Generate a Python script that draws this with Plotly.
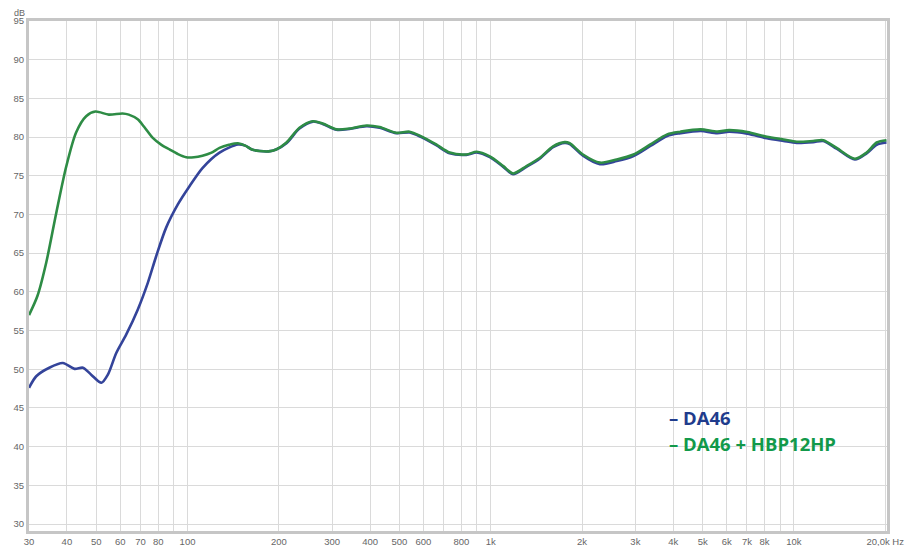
import plotly.graph_objects as go

# Frequency (Hz) and level (dB)
green_freq = [30, 32, 34.2, 36.9, 39.8, 42.9, 46.3, 49.7, 55, 61, 64, 68.5, 72, 76.8, 82, 87.2,
              93, 99, 105, 112, 120, 127.5, 137, 146.6, 155, 163, 173, 185, 196, 212, 234, 259,
              279, 310, 342, 389, 430, 488, 540, 590, 661, 732, 831, 899, 993, 1100, 1184, 1312,
              1450, 1606, 1754, 1822, 2015, 2292, 2604, 2957, 3361, 3820, 4226, 4922, 5588,
              6108, 7016, 8144, 9239, 10220, 11570, 12500, 13830, 15890, 17370, 18750, 20200]
green_db = [57.0, 59.5, 63.8, 70.2, 76.2, 80.6, 82.7, 83.3, 82.9, 83.05, 82.9, 82.3, 81.3, 79.9,
            79.0, 78.4, 77.8, 77.4, 77.4, 77.6, 78.0, 78.6, 79.0, 79.2, 78.9, 78.4, 78.2, 78.15,
            78.4, 79.3, 81.2, 82.05, 81.75, 81.0, 81.1, 81.5, 81.3, 80.55, 80.7, 80.1, 79.05,
            78.0, 77.75, 78.1, 77.5, 76.25, 75.3, 76.25, 77.3, 78.8, 79.35, 79.2, 77.75, 76.7,
            77.1, 77.75, 79.05, 80.35, 80.7, 81.0, 80.7, 80.9, 80.65, 80.05, 79.7, 79.4, 79.5,
            79.6, 78.6, 77.2, 78.0, 79.3, 79.6]

blue_freq = [30, 31.7, 35, 38.8, 42.4, 45.2, 48.1, 52, 54.6, 58.2, 62.8, 68.5, 74, 78.8, 85,
             92.9, 101.5, 112, 127.5, 146.6, 155, 163, 173, 185, 196, 212, 234, 259, 279, 310,
             342, 389, 430, 488, 540, 590, 661, 732, 831, 899, 993, 1100, 1184, 1312, 1450,
             1606, 1754, 1822, 2015, 2292, 2604, 2957, 3361, 3820, 4226, 4922, 5588, 6108, 7016,
             8144, 9239, 10220, 11570, 12500, 13830, 15890, 17370, 18750, 20200]
blue_db = [47.6, 49.1, 50.2, 50.8, 50.05, 50.2, 49.3, 48.25, 49.3, 52.1, 54.5, 57.7, 61.2, 64.6,
           68.3, 71.3, 73.65, 76.0, 78.0, 79.05, 78.9, 78.4, 78.2, 78.15, 78.4, 79.2, 81.1, 82.0,
           81.7, 80.95, 81.05, 81.4, 81.2, 80.5, 80.6, 80.0, 78.95, 77.9, 77.7, 78.0, 77.4,
           76.15, 75.2, 76.15, 77.2, 78.7, 79.25, 79.1, 77.6, 76.5, 76.9, 77.55, 78.85, 80.15,
           80.5, 80.8, 80.5, 80.7, 80.45, 79.85, 79.5, 79.25, 79.35, 79.5, 78.5, 77.1, 77.9,
           79.0, 79.3]

x_tick_vals = [30, 40, 50, 60, 70, 80, 90, 100, 200, 300, 400, 500, 600, 700, 800, 900,
               1000, 2000, 3000, 4000, 5000, 6000, 7000, 8000, 9000, 10000, 20000]
x_tick_text = ["30", "40", "50", "60", "70", "80", "", "100", "200", "300", "400", "500", "600",
               "", "800", "", "1k", "2k", "3k", "4k", "5k", "6k", "7k", "8k", "", "10k",
               "20,0k Hz"]
y_tick_vals = [30, 35, 40, 45, 50, 55, 60, 65, 70, 75, 80, 85, 90, 95]

legend_labels = ["– DA46", "– DA46 + HBP12HP"]

fig = go.Figure()
fig.add_trace(go.Scatter(x=blue_freq, y=blue_db, mode="lines",
                         line=dict(color="#34449a", width=2.6, shape="spline", smoothing=0.8),
                         name=legend_labels[0], showlegend=False))
fig.add_trace(go.Scatter(x=green_freq, y=green_db, mode="lines",
                         line=dict(color="#2e8c45", width=2.6, shape="spline", smoothing=0.8),
                         name=legend_labels[1], showlegend=False))

tick_font = dict(family="Liberation Sans", size=9.5, color="#666666")
fig.update_xaxes(type="log", range=[1.4771, 4.307], tickvals=x_tick_vals, ticktext=x_tick_text,
                 showgrid=True, gridcolor="#dadada", gridwidth=1, zeroline=False,
                 showline=True, mirror=True, linecolor="#c6c6c6", linewidth=3,
                 ticks="", tickfont=tick_font, tickangle=0, automargin=False)
fig.update_yaxes(range=[29.1, 95], tickvals=y_tick_vals, showgrid=True, gridcolor="#dadada",
                 gridwidth=1, zeroline=False, showline=True, mirror=True, linecolor="#c6c6c6",
                 linewidth=3, ticks="", tickfont=tick_font, automargin=False)

fig.add_annotation(xref="paper", yref="paper", x=-0.011, y=1.0155, text="dB", showarrow=False,
                   xanchor="center", yanchor="middle",
                   font=dict(family="Liberation Sans", size=9, color="#666666"))
fig.add_annotation(xref="paper", yref="paper", x=0.744, y=0.2235, text=legend_labels[0],
                   showarrow=False, xanchor="left", yanchor="middle",
                   font=dict(family="Open Sans", size=18.5, color="#1f3c8c", weight="bold"))
fig.add_annotation(xref="paper", yref="paper", x=0.744, y=0.1706, text=legend_labels[1],
                   showarrow=False, xanchor="left", yanchor="middle",
                   font=dict(family="Open Sans", size=18.5, color="#12994a", weight="bold"))

# the page body adds an 8px offset, so the figure is sized and padded to compensate
fig.update_layout(width=907, height=538, margin=dict(l=21, r=28, t=13, b=15),
                  paper_bgcolor="white", plot_bgcolor="white")
fig.write_html("out.html")
